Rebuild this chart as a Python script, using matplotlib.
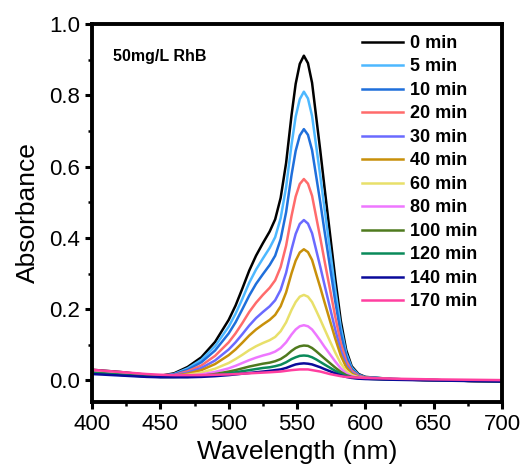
import matplotlib.pyplot as plt
from matplotlib.ticker import MultipleLocator

plt.rcParams['font.family'] = ['Liberation Sans', 'DejaVu Sans']

wavelength = [400, 420, 440, 450, 460, 470, 480, 490, 500, 505, 510, 515, 520, 525, 530, 534,
              538, 542, 546, 549, 552, 555, 558, 561, 564, 567, 570, 574, 578, 582, 586, 590,
              595, 600, 620, 650, 700]

a_0 = [0.030, 0.024, 0.016, 0.013, 0.020, 0.038, 0.065, 0.108, 0.170, 0.210, 0.258, 0.308, 0.350, 0.385, 0.418, 0.452,
       0.512, 0.610, 0.745, 0.832, 0.888, 0.911, 0.890, 0.835, 0.740, 0.645, 0.545, 0.415, 0.285, 0.168, 0.085, 0.040,
       0.018, 0.010, 0.004, 0.001, -0.003]
a_5 = [0.028, 0.022, 0.015, 0.012, 0.018, 0.034, 0.058, 0.096, 0.151, 0.187, 0.229, 0.274, 0.311, 0.342, 0.372, 0.402,
       0.455, 0.542, 0.662, 0.740, 0.789, 0.810, 0.791, 0.742, 0.658, 0.574, 0.485, 0.370, 0.254, 0.150, 0.076, 0.036,
       0.016, 0.009, 0.004, 0.001, -0.003]
a_10 = [0.027, 0.021, 0.014, 0.012, 0.017, 0.030, 0.051, 0.084, 0.132, 0.163, 0.200, 0.238, 0.271, 0.298, 0.324, 0.350,
        0.396, 0.472, 0.577, 0.644, 0.687, 0.705, 0.689, 0.646, 0.573, 0.500, 0.422, 0.322, 0.221, 0.131, 0.067, 0.032,
        0.015, 0.009, 0.004, 0.001, -0.003]
a_20 = [0.026, 0.020, 0.014, 0.012, 0.015, 0.026, 0.042, 0.069, 0.107, 0.132, 0.161, 0.192, 0.218, 0.240, 0.260, 0.281,
        0.318, 0.378, 0.462, 0.516, 0.551, 0.565, 0.552, 0.518, 0.459, 0.400, 0.338, 0.258, 0.178, 0.105, 0.055, 0.027,
        0.013, 0.008, 0.004, 0.001, -0.003]
a_30 = [0.025, 0.019, 0.013, 0.011, 0.014, 0.022, 0.035, 0.056, 0.087, 0.107, 0.130, 0.154, 0.175, 0.192, 0.208, 0.225,
        0.254, 0.302, 0.368, 0.411, 0.439, 0.450, 0.440, 0.413, 0.366, 0.319, 0.270, 0.206, 0.142, 0.084, 0.044, 0.022,
        0.011, 0.007, 0.003, 0.001, -0.003]
a_40 = [0.024, 0.018, 0.013, 0.011, 0.013, 0.019, 0.029, 0.046, 0.071, 0.087, 0.106, 0.126, 0.143, 0.157, 0.170, 0.184,
        0.208, 0.247, 0.301, 0.336, 0.359, 0.368, 0.360, 0.338, 0.299, 0.261, 0.221, 0.169, 0.117, 0.070, 0.037, 0.019,
        0.010, 0.007, 0.003, 0.001, -0.003]
a_60 = [0.024, 0.018, 0.013, 0.011, 0.012, 0.016, 0.022, 0.033, 0.049, 0.060, 0.072, 0.085, 0.096, 0.105, 0.113, 0.122,
        0.138, 0.163, 0.198, 0.220, 0.235, 0.240, 0.235, 0.220, 0.196, 0.171, 0.145, 0.111, 0.078, 0.048, 0.027, 0.015,
        0.009, 0.006, 0.003, 0.001, -0.003]
a_80 = [0.023, 0.017, 0.012, 0.011, 0.011, 0.013, 0.017, 0.024, 0.034, 0.041, 0.049, 0.057, 0.064, 0.070, 0.075, 0.081,
        0.091, 0.107, 0.129, 0.143, 0.152, 0.155, 0.152, 0.143, 0.128, 0.112, 0.095, 0.074, 0.053, 0.034, 0.020, 0.012,
        0.008, 0.006, 0.003, 0.001, -0.003]
a_100 = [0.022, 0.016, 0.012, 0.010, 0.010, 0.011, 0.013, 0.018, 0.025, 0.029, 0.034, 0.039, 0.043, 0.047, 0.050, 0.054,
         0.060, 0.070, 0.083, 0.091, 0.096, 0.098, 0.097, 0.091, 0.082, 0.072, 0.062, 0.049, 0.036, 0.024, 0.015, 0.010,
         0.007, 0.005, 0.003, 0.001, -0.003]
a_120 = [0.021, 0.016, 0.011, 0.010, 0.010, 0.010, 0.012, 0.015, 0.020, 0.023, 0.026, 0.029, 0.032, 0.035, 0.037, 0.040,
         0.044, 0.051, 0.060, 0.065, 0.069, 0.070, 0.069, 0.065, 0.059, 0.052, 0.045, 0.036, 0.027, 0.019, 0.012, 0.008,
         0.006, 0.005, 0.003, 0.001, -0.003]
a_140 = [0.018, 0.014, 0.010, 0.009, 0.009, 0.009, 0.010, 0.012, 0.015, 0.017, 0.019, 0.021, 0.023, 0.025, 0.027, 0.029,
         0.031, 0.035, 0.041, 0.045, 0.047, 0.048, 0.047, 0.045, 0.041, 0.037, 0.032, 0.026, 0.020, 0.014, 0.010, 0.007,
         0.005, 0.004, 0.002, 0.000, -0.003]
a_170 = [0.030, 0.024, 0.018, 0.016, 0.015, 0.015, 0.015, 0.016, 0.017, 0.018, 0.019, 0.020, 0.021, 0.022, 0.023, 0.024,
         0.025, 0.027, 0.029, 0.030, 0.031, 0.031, 0.031, 0.029, 0.027, 0.025, 0.022, 0.018, 0.015, 0.012, 0.010, 0.009,
         0.008, 0.007, 0.005, 0.003, 0.001]

series = [a_0, a_5, a_10, a_20, a_30, a_40, a_60, a_80, a_100, a_120, a_140, a_170]
labels = ['0 min', '5 min', '10 min', '20 min', '30 min', '40 min', '60 min', '80 min',
          '100 min', '120 min', '140 min', '170 min']
colors = ['#000000', '#4db8ff', '#1f6fdb', '#ff6b6b', '#6a6aff', '#c8900a',
          '#e8e06a', '#ee77ff', '#4f7a1e', '#0a8a5a', '#0a0a9a', '#ff3fa0']

fig = plt.figure(figsize=(5.29, 4.70), dpi=100)
ax = fig.add_axes([0.174, 0.145, 0.775, 0.804])

for y, lab, c in zip(series, labels, colors):
    ax.plot(wavelength, y, color=c, lw=1.8, label=lab, solid_joinstyle='round')

ax.set_xlim(400, 700)
ax.set_ylim(-0.06, 1.0)
ax.xaxis.set_major_locator(MultipleLocator(50))
ax.xaxis.set_minor_locator(MultipleLocator(25))
ax.yaxis.set_major_locator(MultipleLocator(0.2))
ax.yaxis.set_minor_locator(MultipleLocator(0.1))
ax.yaxis.set_major_formatter(plt.FormatStrFormatter('%.1f'))

for s in ax.spines.values():
    s.set_linewidth(2.8)
ax.tick_params(which='major', direction='out', length=5, width=2.2, labelsize=16)
ax.tick_params(which='minor', direction='out', length=3, width=1.8)

ax.set_xlabel('Wavelength (nm)', fontsize=19, labelpad=4)
ax.set_ylabel('Absorbance', fontsize=19, labelpad=7)

ax.text(0.05, 0.915, '50mg/L RhB', transform=ax.transAxes, fontsize=11.5,
        fontweight='bold', va='center')

ax.legend(loc='upper left', bbox_to_anchor=(0.64, 0.99), frameon=False,
          prop={'weight': 'bold', 'size': 13}, handlelength=2.3,
          handletextpad=0.4, labelspacing=0.36, borderaxespad=0)

fig.savefig('out.png', dpi=100)
